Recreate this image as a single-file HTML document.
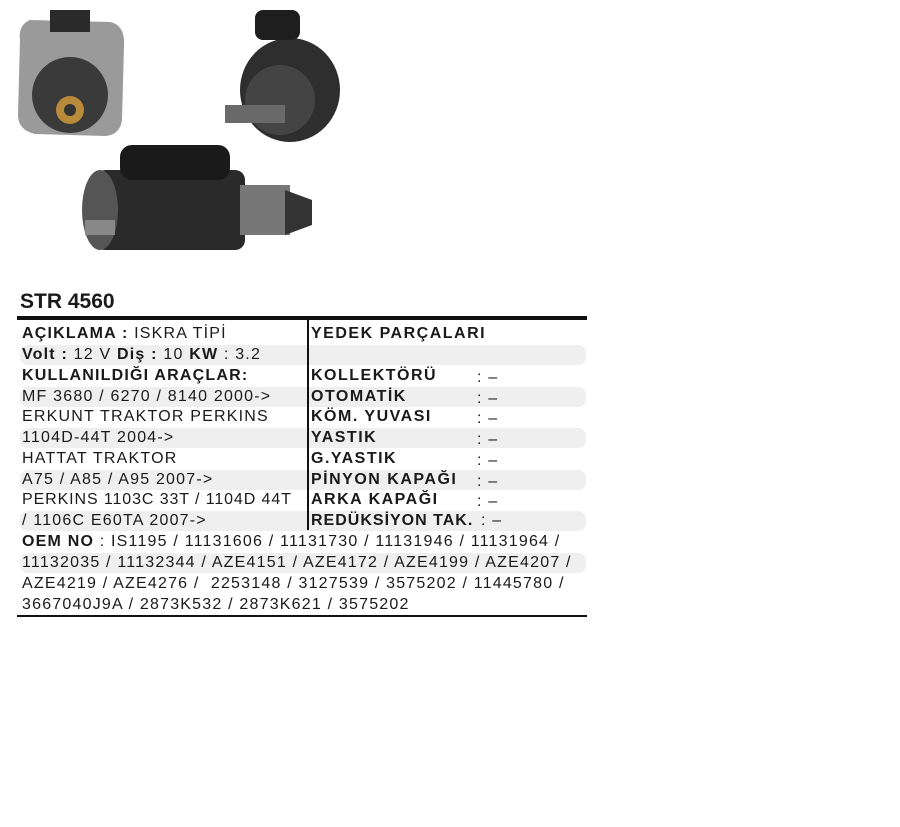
<!DOCTYPE html>
<html><head><meta charset="utf-8"><style>
body{margin:0;width:900px;height:827px;background:#fff;position:relative;overflow:hidden;font-family:"Liberation Sans",sans-serif;color:#1a1a1a}
.t{position:absolute;font-size:16px;white-space:nowrap;letter-spacing:1.2px;line-height:18px}
.b{font-weight:bold}
.r{letter-spacing:1.5px}
.sh{position:absolute;left:20px;width:566px;height:20px;background:#efefef;border-radius:8px}
</style></head><body>
<svg width="900" height="280" style="position:absolute;left:0;top:0">
<path d="M20 40 Q18 25 30 20 L110 22 Q125 25 124 45 L122 120 Q120 135 105 136 L35 134 Q18 130 18 115 Z" fill="#9a9a9a"/>
<circle cx="70" cy="95" r="38" fill="#3a3a3a"/>
<circle cx="70" cy="110" r="14" fill="#b98a3a"/>
<circle cx="70" cy="110" r="6" fill="#333"/>
<rect x="50" y="10" width="40" height="22" fill="#2a2a2a"/>
<ellipse cx="290" cy="90" rx="50" ry="52" fill="#2e2e2e"/>
<circle cx="280" cy="100" r="35" fill="#444"/>
<rect x="255" y="10" width="45" height="30" rx="8" fill="#1e1e1e"/>
<rect x="225" y="105" width="60" height="18" fill="#6a6a6a"/>
<rect x="95" y="170" width="150" height="80" rx="10" fill="#2a2a2a"/>
<ellipse cx="100" cy="210" rx="18" ry="40" fill="#555"/>
<rect x="120" y="145" width="110" height="35" rx="12" fill="#1a1a1a"/>
<rect x="240" y="185" width="50" height="50" fill="#777"/>
<path d="M285 190 L312 200 L312 225 L285 235 Z" fill="#333"/>
<rect x="85" y="220" width="30" height="15" fill="#888"/>
</svg>
<div class="t b" style="left:20px;top:290px;font-size:21px;line-height:24px;letter-spacing:0px">STR 4560</div>
<div style="position:absolute;left:17px;top:316px;width:570px;height:4px;background:#111"></div>
<div style="position:absolute;left:17px;top:615px;width:570px;height:2px;background:#111"></div>
<div class="sh" style="top:345px"></div>
<div class="sh" style="top:387px"></div>
<div class="sh" style="top:428px"></div>
<div class="sh" style="top:470px"></div>
<div class="sh" style="top:511px"></div>
<div class="sh" style="top:553px"></div>
<div style="position:absolute;left:307px;top:320px;width:2px;height:210px;background:#111"></div>
<div class="t" style="left:22px;top:325px"><b>AÇIKLAMA :</b> ISKRA TİPİ</div>
<div class="t" style="left:22px;top:346px"><b>Volt :</b> 12 V <b>Diş :</b> 10 <b>KW</b> : 3.2</div>
<div class="t b" style="left:22px;top:367px">KULLANILDIĞI ARAÇLAR:</div>
<div class="t" style="left:22px;top:388px">MF 3680 / 6270 / 8140 2000-&gt;</div>
<div class="t" style="left:22px;top:408px">ERKUNT TRAKTOR PERKINS</div>
<div class="t" style="left:22px;top:429px">1104D-44T 2004-&gt;</div>
<div class="t" style="left:22px;top:450px">HATTAT TRAKTOR</div>
<div class="t" style="left:22px;top:471px">A75 / A85 / A95 2007-&gt;</div>
<div class="t" style="left:22px;top:491px;letter-spacing:0.9px">PERKINS 1103C 33T / 1104D 44T</div>
<div class="t" style="left:22px;top:512px">/ 1106C E60TA 2007-&gt;</div>
<div class="t b r" style="left:311px;top:325px">YEDEK PARÇALARI</div>
<div class="t b r" style="left:311px;top:367px">KOLLEKTÖRÜ</div>
<div class="t b r" style="left:311px;top:388px">OTOMATİK</div>
<div class="t b r" style="left:311px;top:408px">KÖM. YUVASI</div>
<div class="t b r" style="left:311px;top:429px">YASTIK</div>
<div class="t b r" style="left:311px;top:450px">G.YASTIK</div>
<div class="t b r" style="left:311px;top:471px">PİNYON KAPAĞI</div>
<div class="t b r" style="left:311px;top:491px">ARKA KAPAĞI</div>
<div class="t b" style="left:311px;top:512px;letter-spacing:1px">REDÜKSİYON TAK.</div>
<div class="t" style="left:477px;top:369px">: –</div>
<div class="t" style="left:477px;top:390px">: –</div>
<div class="t" style="left:477px;top:410px">: –</div>
<div class="t" style="left:477px;top:431px">: –</div>
<div class="t" style="left:477px;top:452px">: –</div>
<div class="t" style="left:477px;top:473px">: –</div>
<div class="t" style="left:477px;top:493px">: –</div>
<div class="t" style="left:481px;top:512px">: –</div>
<div class="t" style="left:22px;top:533px"><b>OEM NO</b> : IS1195 / 11131606 / 11131730 / 11131946 / 11131964 /</div>
<div class="t" style="left:22px;top:554px">11132035 / 11132344 / AZE4151 / AZE4172 / AZE4199 / AZE4207 /</div>
<div class="t" style="left:22px;top:575px">AZE4219 / AZE4276 /&nbsp; 2253148 / 3127539 / 3575202 / 11445780 /</div>
<div class="t" style="left:22px;top:596px">3667040J9A / 2873K532 / 2873K621 / 3575202</div>
</body></html>
